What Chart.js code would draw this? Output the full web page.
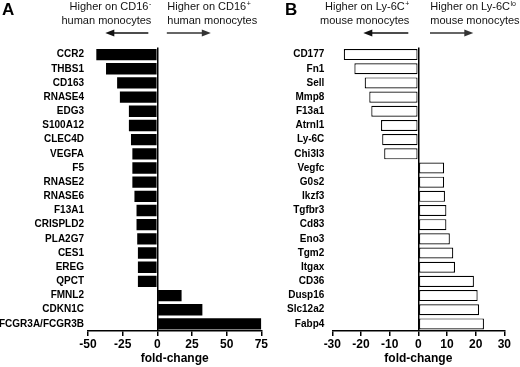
<!DOCTYPE html>
<html>
<head>
<meta charset="utf-8">
<script src="https://cdn.jsdelivr.net/npm/chart.js@4.4.1/dist/chart.umd.min.js"></script>
<style>
  html, body { margin: 0; padding: 0; background: #fff; }
  #wrap { position: relative; width: 520px; height: 367px; overflow: hidden; }
  #boxA { position: absolute; left: 0; top: 0; width: 275px; height: 367px; }
  #boxB { position: absolute; left: 260px; top: 0; width: 260px; height: 367px; }
</style>
</head>
<body>
<div id="wrap">
  <div id="boxA"><canvas id="chartA"></canvas></div>
  <div id="boxB"><canvas id="chartB"></canvas></div>
</div>
<script>
// panel A: human monocytes
var humanGenes = ['CCR2', 'THBS1', 'CD163', 'RNASE4', 'EDG3', 'S100A12', 'CLEC4D', 'VEGFA', 'F5',
    'RNASE2', 'RNASE6', 'F13A1', 'CRISPLD2', 'PLA2G7', 'CES1', 'EREG', 'QPCT', 'FMNL2', 'CDKN1C',
    'FCGR3A/FCGR3B'];
var humanFold = [-44, -37, -29, -27, -20.5, -20.5, -19, -18, -18, -18, -16.5, -15, -15, -14.5,
    -14, -14, -14, 17.5, 32.5, 75];
var humanTicks = [-50, -25, 0, 25, 50, 75];

// panel B: mouse monocytes
var mouseGenes = ['CD177', 'Fn1', 'Sell', 'Mmp8', 'F13a1', 'Atrnl1', 'Ly-6C', 'Chi3l3', 'Vegfc',
    'G0s2', 'Ikzf3', 'Tgfbr3', 'Cd83', 'Eno3', 'Tgm2', 'Itgax', 'CD36', 'Dusp16', 'Slc12a2', 'Fabp4'];
var mouseFold = [-26, -22.3, -18.7, -17.1, -16.4, -13, -12.6, -11.9, 9, 9, 9.3, 9.8, 9.8, 11,
    12.2, 12.8, 19.4, 20.7, 21.2, 22.9];
var mouseTicks = [-30, -20, -10, 0, 10, 20, 30];

var FONT = '"Liberation Sans", Arial, Helvetica, sans-serif';

function textWithSup(ctx, base, sup, x, y, align) {
    ctx.font = '11px ' + FONT;
    var wb = ctx.measureText(base).width;
    ctx.font = '7px ' + FONT;
    var ws = sup ? ctx.measureText(sup).width + 0.5 : 0;
    var start = align === 'right' ? x - wb - ws : x;
    ctx.textAlign = 'left';
    ctx.font = '11px ' + FONT;
    ctx.fillText(base, start, y);
    if (sup) {
        ctx.font = '7px ' + FONT;
        ctx.fillText(sup, start + wb + 0.5, y - 4);
    }
}

function arrow(ctx, x1, x2, y, color) {
    var dir = x2 > x1 ? 1 : -1;
    ctx.strokeStyle = color;
    ctx.fillStyle = color;
    ctx.lineWidth = 1.5;
    ctx.beginPath();
    ctx.moveTo(x1, y);
    ctx.lineTo(x2 - dir * 8, y);
    ctx.stroke();
    ctx.beginPath();
    ctx.moveTo(x2, y);
    ctx.lineTo(x2 - dir * 9, y - 3.5);
    ctx.lineTo(x2 - dir * 9, y + 3.5);
    ctx.closePath();
    ctx.fill();
}

var headerPlugin = {
    id: 'panelHeader',
    afterDraw: function (chart, args, o) {
        var ctx = chart.ctx;
        var zero = chart.scales.x.getPixelForValue(0);
        ctx.save();
        ctx.textBaseline = 'alphabetic';
        ctx.fillStyle = '#000';
        ctx.font = 'bold 17px ' + FONT;
        ctx.textAlign = 'left';
        ctx.fillText(o.letter, o.letterX, 15);

        ctx.fillStyle = '#111';
        textWithSup(ctx, o.leftText, o.leftSup, zero - o.gapL, 10, 'right');
        textWithSup(ctx, o.leftText2, '', zero - o.gapL, 24, 'right');
        textWithSup(ctx, o.rightText, o.rightSup, zero + o.gapR, 10, 'left');
        textWithSup(ctx, o.rightText2, '', zero + o.gapR, 24, 'left');

        arrow(ctx, zero - o.arrowL[0], zero - o.arrowL[1], 33, '#111');
        arrow(ctx, zero + o.arrowR[0], zero + o.arrowR[1], 33, '#333');
        ctx.restore();
    }
};

function makeChart(id, genes, fold, ticks, opt) {
    return new Chart(document.getElementById(id), {
        type: 'bar',
        data: {
            labels: genes,
            datasets: [{
                data: fold,
                backgroundColor: opt.fill,
                borderColor: '#000',
                borderWidth: opt.border,
                borderSkipped: false,
                barPercentage: opt.barPct,
                categoryPercentage: 1,
            }],
        },
        options: {
            indexAxis: 'y',
            responsive: true,
            maintainAspectRatio: false,
            animation: false,
            layout: { padding: { left: 0, right: opt.padRight, top: 47.5, bottom: 0 } },
            plugins: {
                legend: { display: false },
                tooltip: { enabled: false },
                panelHeader: opt.header,
            },
            scales: {
                y: {
                    grid: { display: false, drawTicks: false },
                    border: { display: false },
                    ticks: {
                        autoSkip: false, color: '#000', padding: opt.labelPad,
                        font: { family: FONT, size: 10, weight: 'bold' },
                    },
                    afterFit: function (s) { s.width = opt.yWidth; },
                },
                x: {
                    min: ticks[0],
                    max: ticks[ticks.length - 1],
                    ticks: {
                        stepSize: ticks[1] - ticks[0], autoSkip: false, color: '#000', padding: 1,
                        font: { family: FONT, size: 12, weight: 'bold' },
                    },
                    grid: {
                        color: function (c) { return c.tick && c.tick.value === 0 ? '#000' : 'rgba(0,0,0,0)'; },
                        lineWidth: 1.5,
                        tickColor: '#000',
                        tickWidth: 1.5,
                        tickLength: 5,
                    },
                    border: { display: true, color: '#000', width: 1.5 },
                    title: {
                        display: true, text: 'fold-change', color: '#000', padding: { top: 0, bottom: 1.5 },
                        font: { family: FONT, size: 12, weight: 'bold' },
                    },
                    afterFit: function (s) { s.height = 36; },
                },
            },
        },
        plugins: [headerPlugin],
    });
}

makeChart('chartA', humanGenes, humanFold, humanTicks, {
    fill: '#000', border: 0, barPct: 0.8, padRight: 13.7, yWidth: 88, labelPad: 4,
    header: {
        letter: 'A', letterX: 2, gapL: 6, gapR: 10, arrowL: [9, 52], arrowR: [9.5, 53.5],
        leftText: 'Higher on CD16', leftSup: '-', leftText2: 'human monocytes',
        rightText: 'Higher on CD16', rightSup: '+', rightText2: 'human monocytes',
    },
});

makeChart('chartB', mouseGenes, mouseFold, mouseTicks, {
    fill: '#fff', border: 1.2, barPct: 0.78, padRight: 15.7, yWidth: 72.3, labelPad: 8,
    header: {
        letter: 'B', letterX: 25, gapL: 9, gapR: 12, arrowL: [10, 55], arrowR: [11.7, 55],
        leftText: 'Higher on Ly-6C', leftSup: '+', leftText2: 'mouse monocytes',
        rightText: 'Higher on Ly-6C', rightSup: 'lo', rightText2: 'mouse monocytes',
    },
});
</script>
</body>
</html>
